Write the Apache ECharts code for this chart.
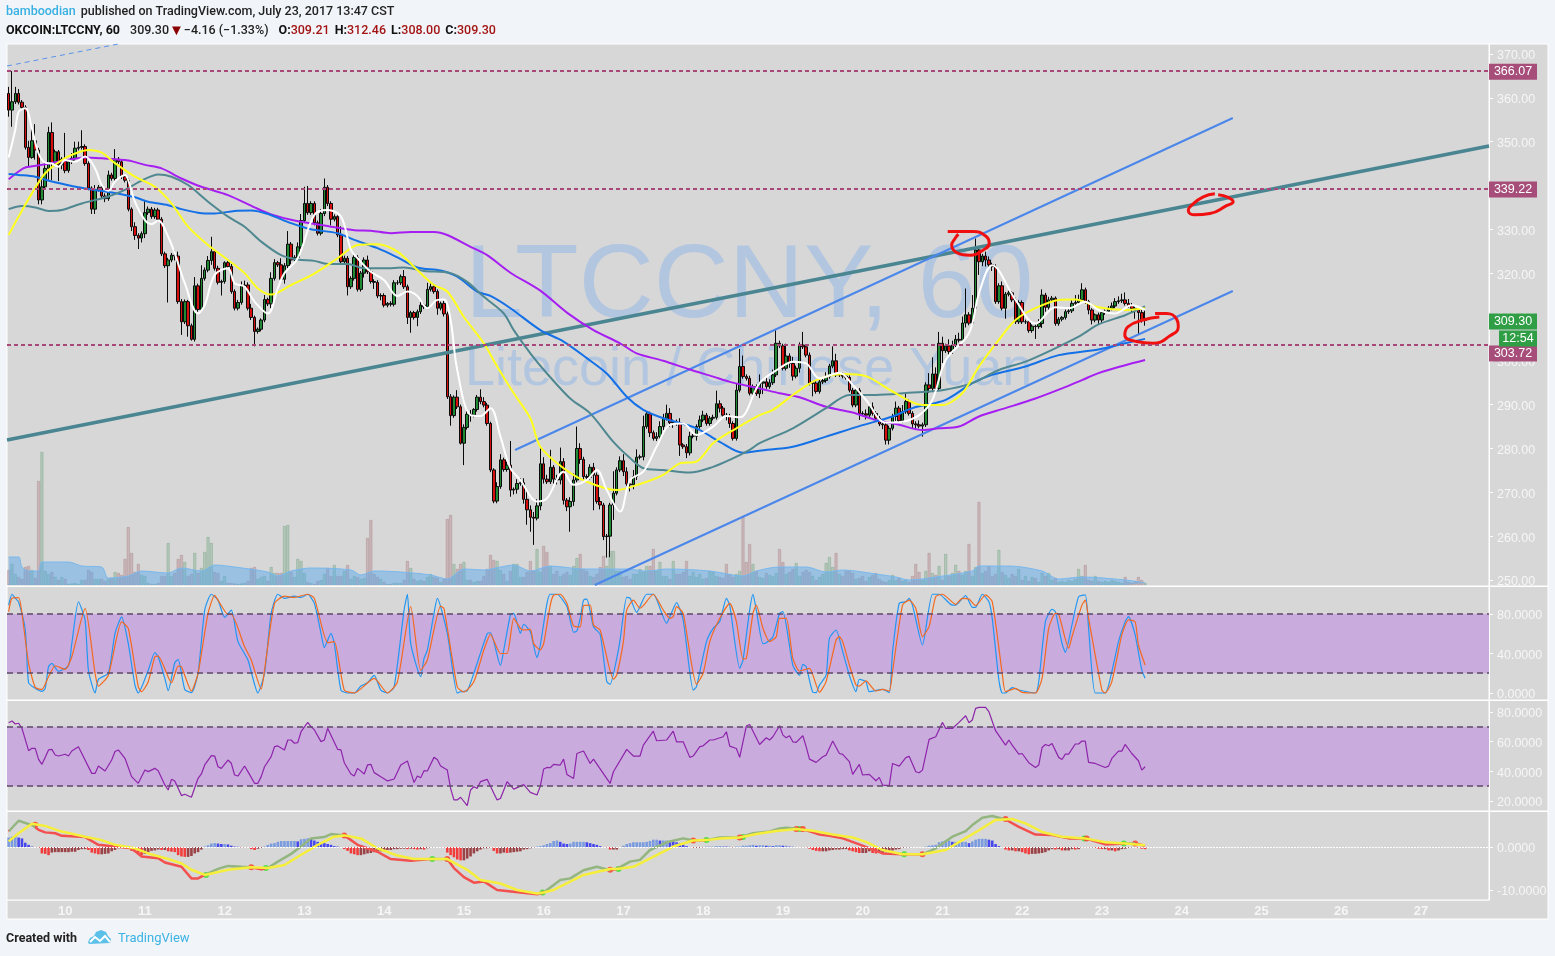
<!DOCTYPE html>
<html><head><meta charset="utf-8"><title>LTCCNY</title>
<style>html,body{margin:0;padding:0;background:#f1f4f8}#c{width:1555px;height:956px}</style>
<script src="https://cdn.jsdelivr.net/npm/echarts@6/dist/echarts.min.js"></script></head>
<body><div id="c"></div><script>
const firstOpen=361.0;
const closes=[357.2,359.1,361.0,359.0,357.8,348.7,346.4,350.2,348.1,336.7,
339.7,343.9,352.1,345.0,347.7,344.7,346.0,343.4,345.4,346.2,
348.5,348.7,348.9,345.0,339.4,334.6,339.1,339.6,337.6,337.0,
342.4,341.6,346.0,345.4,342.0,341.2,334.6,330.6,328.6,328.0,
329.0,333.8,334.6,332.9,334.4,332.3,324.4,321.7,323.0,324.1,
323.9,313.5,308.9,313.5,308.0,304.9,317.1,311.7,318.8,320.7,
322.9,324.9,321.1,317.9,318.1,322.4,321.5,315.8,312.0,313.3,
317.1,317.3,312.0,309.9,306.7,307.2,309.3,314.0,313.0,318.8,
322.4,321.9,318.6,321.7,326.6,323.0,323.6,326.0,332.0,335.9,
333.8,335.9,331.5,329.1,333.6,339.6,335.9,332.3,332.9,328.7,
322.6,323.4,316.9,318.8,323.6,316.3,320.0,323.0,320.3,318.1,
317.9,314.8,314.9,312.7,313.1,312.9,317.8,317.8,319.2,316.9,
309.9,311.0,309.9,311.2,312.7,312.3,316.3,316.9,315.8,312.0,
313.1,310.7,291.8,287.5,291.7,289.5,281.2,284.8,287.8,287.6,
288.9,291.7,290.7,289.9,285.7,275.1,268.0,271.3,277.4,275.2,
276.2,270.5,270.7,272.0,272.2,268.4,266.0,264.3,264.1,266.9,
276.5,273.0,272.4,275.7,273.0,272.8,277.0,268.2,266.7,267.9,
272.8,280.0,277.5,273.6,273.4,275.7,273.9,267.9,267.1,259.9,
260.0,267.1,269.8,275.1,277.2,274.7,271.9,271.7,273.6,278.0,
278.1,285.0,287.9,283.6,282.3,282.7,285.0,286.9,288.0,285.9,
286.1,285.7,280.8,280.4,279.0,282.8,282.8,285.0,286.5,287.6,
285.7,286.9,287.1,290.2,289.2,287.6,287.4,285.7,282.3,293.3,
298.7,296.4,296.0,292.6,294.1,292.5,294.9,295.2,294.1,295.0,
296.8,304.0,303.4,298.3,301.1,299.4,296.5,298.3,303.6,303.2,
301.3,294.9,294.9,293.0,295.2,295.5,296.4,298.8,300.0,296.8,
296.8,296.5,296.2,293.3,289.9,293.3,288.0,287.9,287.6,289.5,
288.0,286.9,285.6,285.4,281.9,284.6,287.3,289.2,286.3,288.4,
290.7,288.0,285.6,285.4,285.1,285.4,294.5,293.7,297.0,293.7,
304.0,302.3,303.4,302.1,303.6,304.9,304.7,308.6,310.5,308.6,
312.0,325.3,322.6,323.9,323.0,321.9,321.5,313.5,317.1,312.0,
315.2,315.5,313.9,308.9,313.3,308.9,308.9,306.9,307.9,307.8,
308.5,315.0,312.2,313.9,314.3,308.5,309.5,309.9,311.2,311.4,
313.1,313.3,313.9,316.2,313.5,311.6,309.3,310.5,309.3,311.0,
311.3,312.0,312.5,313.5,313.7,313.9,313.1,312.6,311.9,311.6,
311.0,309.21,309.30];
const wickUp=[1.5,7,1.5,1,.5,.5,1.5,2.7,3.8,.5,
2.3,1.5,1.3,2.3,.5,.4,.5,6,.5,1.2,
1.5,1.3,3.7,.5,.5,.4,1,.5,.7,.6,
1,.5,2.3,.5,.5,.5,.5,.4,1,.5,
.5,2.9,.6,.5,.5,.5,.5,.5,.5,.5,
1.2,1,.6,.5,.4,.5,2,.5,3,.6,
1,3.4,.6,.6,.4,.3,.4,.6,.5,.6,
1,1,.6,1,.4,.4,.4,1,.4,1.4,
.8,.4,1.5,.6,3,.5,.5,1,1.5,3.8,
4,.5,.5,.5,1,2,.5,.5,.5,.3,
2,.6,.5,.5,.5,.5,.5,.6,1,.5,
.5,.5,.5,.5,.3,.5,.6,.6,.5,1.5,
.5,.4,.4,.5,.8,.5,1.5,.8,.5,.5,
.4,.6,.5,.6,.4,1.6,.5,.7,1,1,
.3,.5,1.8,1,.5,.4,.4,1,1.3,.5,
.8,5.5,.4,1,1,1,2,1,1.2,1.5,
3.5,1.5,1,4,.5,1,3.2,.8,.5,1,
1.5,5,1.2,.6,.5,.7,1,.6,1,.5,
.5,.5,5,.6,1,1.5,1,.8,1.5,1.8,
.5,2.5,.6,.5,.5,1,1.2,1,2,1.2,
.5,.5,1.2,.4,.6,1,.5,.5,1,1,
.5,.5,.6,3,.8,.5,.5,.5,.5,1.5,
4,2.5,.5,.6,.5,.5,2,.6,1,.8,
1.2,3,.6,.5,2.8,.6,1.5,.6,.6,3,
.5,.6,.5,.5,.5,.5,1,.5,3.3,1.6,
.5,.5,.5,.5,.5,.5,.5,.5,1,.8,
1,.5,.5,.4,.5,.6,.6,1.5,.5,1.5,
1.8,.5,.5,.6,1,.5,.6,2.7,3.8,1.5,
2.6,1.5,.5,1.5,1,1,1.5,1.5,6,.6,
3,2.6,.5,.5,1,.8,.5,.5,.6,1,
.5,.5,.4,.5,.5,.5,.5,.5,.4,.4,
1,1.3,.5,.7,.5,.4,.5,.3,.5,.5,
1,1.7,1.2,1.5,.5,.4,.4,.3,.5,.4,
.4,.5,.8,.8,1,1.4,1.7,1,.6,.5,
.4,.6,3.16];
const wickDown=[1.5,3.8,.5,.5,.5,.5,2.2,.3,2.2,1,
1,.5,2.6,3.8,.5,3.7,1,.6,.5,.5,
.5,.5,.5,.5,.5,1.1,1.1,.5,.5,.8,
.5,.5,.5,.5,.5,.5,.5,1,1,2.5,
1,1,.5,.5,.5,.5,.5,.5,8.4,.5,
1,.5,3,.5,2.5,.3,.5,.5,.5,.5,
.5,1,.5,.5,3,.5,.5,.5,.5,.5,
.5,.5,.5,.6,3.4,.5,.5,.5,.5,1,
.5,.5,.5,1,.6,1,.5,.5,.5,.5,
.5,.5,.6,.5,.5,.6,.6,1.4,.5,.5,
.6,.5,2,.5,.5,.5,.5,1,.5,.5,
1.5,.5,1,.5,.5,.5,.5,.5,.5,.5,
1.5,3.5,.5,2,.5,.5,.5,.5,.5,1.5,
.5,.6,.5,2.3,.5,.5,.3,5,.5,1.5,
.5,.5,.6,.5,.5,.5,.5,.5,.5,.5,
.5,1.5,1,1,.5,1,3.4,3.3,6.1,.5,
1,1,.5,.5,1,1,1,1,1,5.7,
1,.5,1,1,1,.5,8,.5,1,.8,
4.8,4.8,3.4,.5,.5,1,.5,1.5,1,.8,
.5,.8,.5,1,.5,.6,1,.8,.5,1,
1.2,.5,2.5,.5,1.2,.6,.5,1,.5,.5,
.5,.5,.5,.5,1,.5,1,1,.5,.5,
.5,.5,.5,.5,1,.5,1,2.5,.5,.5,
.5,.5,.5,.5,.5,1,1,.5,1,.5,
.5,.5,3,.5,.5,.5,.5,.5,.5,.5,
.5,.5,.5,.5,.5,.5,1.5,.5,1,.5,
.5,.5,.5,1,1,1,.5,1,.5,.5,
.5,.5,1,.9,.5,2.4,.5,1,.5,1,
.5,2.8,.5,1,.5,.5,.5,.5,1,.5,
.5,.5,3,1,1.5,1,1,.5,.5,.5,
2.4,.5,.5,.5,.5,.5,.5,.5,.5,2.8,
.5,1,1,.5,.5,.5,.5,.5,.5,.5,
.5,.5,.5,.5,.5,1,1,.5,1,.7,
.5,.5,.5,.5,.5,.5,.5,.5,1,2,
5,.5,1.21];
const volumes=[15,21,11,8,6,18,19,15,7,104,
133,14,11,13,8,5,8,6,1,1.5,
2,1,5,5,15,13,6,6,6,4,
6,7,13,12,10,26,58,32,13,21,
10,9,2,1,1,2,9,9,42,9,
12,26,30,23,9,11,32,12,17,33,
48,42,13,12,4,9,2,2,1.5,1,
1.5,2,4,17,18,6,8,9,4,18,
12,12,12,59,60,13,8,26,24,12,
3,2,1,4,5,11,17,9,20,9,
9,14,20,6,9,8,6,7,47,65,
11,8,6,3,1,1,2,2,2,5,
24,17,6,4,5,4,8,11,8,7,
3,6,66,70,21,16,21,23,5,5,
3,4,4,9,16,30,25,24,15,11,
4,14,21,21,8,8,13,24,14,36,
13,39,33,19,11,14,9,11,13,10,
19,27,31,16,14,9,8,11,18,29,
19,34,34,14,14,8,9,6,11,11,
16,13,19,19,36,14,23,9,9,6,
24,11,11,13,24,9,13,8,11,6,
7,14,13,9,8,7,21,11,8,11,
14,68,23,41,21,14,8,7,12,10,
9,12,36,23,11,13,16,22,9,13,
15,13,9,5,8,11,22,28,18,32,
11,9,14,14,12,6,7,9,4,8,
10,12,6,4,3,5,10,5,7,4,
5,3,9,21,13,5,14,32,12,10,
19,5,31,9,12,20,14,10,14,41,
9,18,83,12,14,19,9,11,35,13,
10,7,11,9,16,5,9,4,8,7,
3,12,9,12,5,7,3,4,3,5,
4,6,16,9,20,5,4,9,4,3,
4,3,5,4,3,2,8,3,2,4,
8,5,2];
const volumeMA=[[0,28],[3,28],[4,18],[6,14],[9,14],[10,23],[18,23],[22,19],[28,18],[30,7],[36,9],[40,14],[48,12],[52,17],[58,14],[62,20],[68,18],[78,13],[81,9],[85,14],[91,17],[103,15],[106,10],[110,14],[118,13],[127,10],[132,6],[137,16],[143,15],[148,18],[152,20],[157,14],[163,19],[173,16],[186,16],[192,14],[198,16],[211,14],[221,9],[225,14],[232,18],[240,18],[246,13],[251,15],[261,11],[267,8],[271,5],[279,8],[290,14],[292,19],[301,19],[311,14],[316,6],[323,8],[336,5],[342,2]];
const maPurple=[[0,341.4],[3,343.2],[5,344.1],[10,344.7],[17,345.7],[23,346.4],[28,346.2],[36,345.7],[41,344.7],[46,343.9],[52,341.6],[58,339.7],[66,337.8],[74,335],[79,333.4],[86,332],[97,330.6],[104,329.8],[109,329.7],[115,329.1],[121,329.4],[128,329.4],[132,328.7],[139,326],[144,324.1],[151,320.1],[160,316],[168,311],[176,307],[184,304],[189,301.7],[197,300],[205,298],[212,296.4],[217,295.2],[226,293.7],[232,292.6],[238,291.7],[246,289.5],[254,288.2],[261,286.5],[268,285.4],[275,284.2],[280,284.6],[286,285],[292,287.3],[300,289.2],[309,291.4],[317,293.7],[323,295.6],[328,297.2],[336,299],[342,300.2]];
const maBlue=[[0,342.6],[3,342.4],[8,342],[13,340.9],[19,339.9],[25,339.1],[31,338.4],[38,337.3],[42,336.3],[48,335.5],[52,334.6],[57,333.8],[62,333.6],[68,334.2],[73,334.3],[78,333.5],[85,331.4],[91,330],[99,329.1],[104,327.6],[111,325.7],[117,323.6],[123,321.3],[130,320.6],[135,319.2],[141,315.8],[145,314.8],[151,312],[160,307],[167,304.4],[174,300.6],[180,297.1],[186,291.8],[191,288.8],[197,286.9],[207,284.6],[214,281.5],[221,279],[226,279.5],[236,280.4],[246,282.7],[256,285.1],[266,287.3],[272,289.2],[282,291.1],[290,294.9],[296,296.8],[306,298.7],[316,301.3],[328,302.6],[336,304],[342,305]];
const maTeal=[[0,334.6],[4,335.3],[8,335],[12,334.2],[16,334.4],[22,335.9],[30,337.5],[35,339],[40,341.1],[45,342.5],[49,342],[54,340.1],[60,336.3],[66,332.9],[71,330.6],[76,327.2],[82,324.1],[87,323.1],[92,322.8],[96,322.1],[102,322.1],[107,321.1],[113,321.1],[119,321.3],[125,320.5],[133,320],[138,318],[143,314.6],[149,310.8],[152,307],[157,301.7],[162,297.1],[169,291.4],[175,288],[182,281.5],[187,277.8],[191,275.5],[197,275.1],[205,274.5],[212,275.8],[217,277.4],[223,279.7],[226,281.2],[236,284.6],[246,289.2],[253,292.2],[261,292.2],[271,292.7],[281,293.3],[290,294.9],[298,297.9],[306,299.8],[314,302.5],[322,305.5],[328,308.3],[336,310.4],[342,312.4]];
const maYellow=[[0,328.7],[3,332.9],[7,338.2],[11,342.8],[16,345.8],[20,347.3],[24,348.1],[28,347.5],[32,345.1],[38,342],[44,339.7],[49,335.9],[54,330.6],[60,326.4],[66,323],[71,320],[75,316.5],[79,315.1],[85,317.3],[92,319.9],[99,323.4],[105,326.4],[111,326.6],[117,324.9],[123,320.7],[128,317.3],[132,315.8],[137,310],[143,304],[147,298.7],[152,292.6],[157,286.9],[160,280.4],[167,275.5],[174,272.4],[183,270.5],[190,271.9],[197,274],[202,276.6],[207,277],[212,281.2],[219,284.6],[226,287.6],[230,288.8],[236,292.2],[243,295.6],[251,297],[258,296.5],[266,293],[275,289.9],[281,289.9],[287,292.6],[292,298.7],[298,304.8],[303,309.3],[309,312],[316,313.9],[321,314],[328,312.2],[336,311.6],[342,312]];
const maWhite=[[0,346.4],[2,352.7],[3,356.8],[5,357.6],[7,353],[9,347.3],[11,345.2],[13,345],[15,344.3],[17,345.8],[20,345.4],[23,346.6],[26,343.9],[28,340.1],[30,338.8],[32,340.9],[35,342.4],[36,341.2],[38,336.3],[41,332.1],[43,331.2],[45,332],[48,328.3],[50,324.5],[53,317.7],[57,310.8],[59,312.7],[62,319.6],[66,321.1],[68,317.7],[71,316.9],[74,313.5],[78,310.8],[81,316.5],[83,320],[87,323.4],[92,333.3],[96,334.4],[100,332.9],[103,325.3],[105,323.4],[109,320.3],[113,318.4],[117,314.8],[120,315.8],[123,314.8],[126,312],[129,313.9],[131,314],[133,309.3],[135,297.9],[139,287.6],[142,287.4],[145,289.2],[148,282.7],[151,275.5],[154,272.8],[159,267.9],[162,268.6],[167,274.7],[170,271.7],[174,272.8],[177,275.1],[180,270.5],[184,265.6],[187,272.8],[191,274.7],[195,280.4],[199,285.4],[203,285.7],[207,283.1],[212,285],[216,287.4],[220,287.1],[226,294.9],[232,298.3],[236,299.8],[240,299.4],[244,296],[250,297.3],[254,294.5],[258,291.1],[264,285.9],[269,286.1],[274,287.6],[278,291.1],[282,300.2],[289,306.3],[292,315.4],[296,321.8],[303,313.9],[309,308.5],[315,312.2],[319,312],[324,313.5],[328,311.6],[333,310.8],[338,312.7],[342,311.6]];
const channelUpper=[[152.4,279.65],[368.4,355.4]];
const channelLower=[[176.4,248.85],[368.4,315.93]];
const channelTop=[[-0.5,367.26],[33,372.28]];
const trendTeal=[[-0.5,281.93],[445.5,349.0]];
const priceLevels=[366.07,339.22,303.72];
const lastPrice=309.30;
const countdown='12:54';
const scribbleA=[[282.6,329.5],[290.3,329.5],[294.3,328.3],[295.1,326.8],[293.3,325.3],[289.3,324.1],[285.3,324.7],[283.8,326.4],[284.8,327.9],[285.8,328.9]];
const scribbleB=[[363,338.1],[359.5,337.4],[356,335.5],[355,334.3],[357,333.3],[361.5,333.6],[366.5,335.4],[368.5,336.3],[367,337.3],[364,337.9]];
const scribbleC=[[346.3,310],[341.4,309.3],[336.9,307.8],[335.9,305.9],[339.4,304.4],[344.4,304],[349.5,305.7],[352,307.8],[351.5,309.5],[348.5,310.8],[345,310.8]];
const stochK=[[0,89],[1,100],[2,96],[3,92],[5,64],[6,10.4],[8,4.7],[10,1.6],[11,4.7],[12,26.6],[13,30],[15,22],[18,27.6],[19,50],[21,92.4],[23,73.8],[24,23],[26,0],[27,13.8],[30,20],[32,60.4],[34,77],[36,50],[38,8],[39,0],[42,23],[44,41],[45,36.7],[47,14.8],[48,2.3],[50,30.6],[51,34],[53,3.6],[55,0.3],[57,20],[59,84],[61,100],[63,94],[65,76.6],[67,84],[69,52],[72,33.4],[75,0],[77,20],[79,80.6],[81,100],[83,95.8],[86,98],[88,96.8],[90,100],[92,90.7],[94,60.4],[95,46],[97,60.4],[98,50],[100,3],[102,0],[104,0],[106,7],[108,10.4],[110,17.8],[112,3],[114,0],[116,6],[119,84],[120,100],[121,50],[124,16.5],[125,35],[126,43.5],[128,80.6],[129,95.8],[132,60.4],[135,0],[136,1.3],[138,2.3],[140,20],[144,60],[145,61],[148,28],[149,43.6],[151,79],[152,80.7],[154,60.4],[155,69.6],[157,62],[159,35.8],[160,48.6],[162,90.8],[163,100],[165,100],[168,87.5],[170,61.5],[171,62.8],[172,75.6],[173,94],[174,95],[176,67],[178,59.4],[180,11.5],[181,8.8],[183,35],[184,53.7],[186,96.9],[187,96],[189,81.7],[192,100],[194,100],[198,70.6],[199,77.3],[201,91.5],[203,74],[206,3],[207,6.4],[210,52],[212,65.5],[214,72.3],[216,95.9],[217,89],[220,25],[221,33.4],[223,84],[224,100],[225,84],[227,50],[228,51],[230,57],[232,80.7],[233,82.4],[236,28],[238,18],[239,29],[240,26.7],[242,0.7],[243,0.3],[244,8],[246,18],[247,55.4],[249,63.8],[251,41.9],[253,18],[255,1.4],[256,13.9],[258,11.5],[259,1.4],[263,3.7],[265,0.4],[266,41.9],[268,90.8],[270,92.5],[271,95.9],[272,89],[275,48.6],[278,100],[280,100],[284,89],[285,89],[288,98.6],[290,86.8],[291,86.8],[293,100],[295,92.5],[296,75.6],[298,13.2],[299,0],[300,0],[302,5.4],[304,3],[309,0],[310,11.5],[312,72.3],[314,84.8],[315,82.4],[317,50.3],[318,41.2],[320,68.9],[322,97.6],[324,99.3],[325,65.5],[327,0],[330,0],[332,21.6],[334,52],[336,72.3],[337,77.3],[339,58.8],[341,23.3],[342,14.9]];
const stochD=[[0,82.3],[1,96],[3,96.5],[4,80.6],[6,30],[8,5.7],[10,3.6],[12,16.4],[14,27.6],[17,23.9],[19,36.7],[23,85.7],[26,20],[27,7],[30,18],[34,72],[36,65.4],[39,6.3],[40,1.3],[42,11.4],[44,36.7],[45,37.4],[49,10.4],[51,27.3],[52,26.6],[55,2],[57,20],[60,80.6],[62,99],[63,94],[66,79.6],[67,79.6],[71,46.8],[73,33.4],[76,4],[77,23],[80,90.7],[83,98],[86,96.8],[90,100],[92,95.8],[96,51],[98,52],[101,3],[104,0],[110,14.8],[114,0],[117,11.4],[121,87.4],[124,23],[126,33.4],[130,88],[131,85.7],[135,6.3],[137,1],[140,11.4],[143,43.5],[145,59.4],[148,40],[150,40],[152,75.6],[154,65.5],[155,63.8],[157,64.5],[158,50],[160,43.6],[161,50],[163,89],[164,99],[166,100],[168,90.8],[170,68],[172,67],[173,88.5],[175,89],[176,68.9],[178,63.8],[182,13.9],[183,18.2],[185,52],[186,84],[188,94],[190,85.8],[191,88.5],[194,100],[197,84],[199,75.6],[200,77.3],[201,87.5],[203,80.7],[207,8.8],[209,20],[211,52],[214,75.6],[217,90.8],[219,72.3],[221,34.4],[222,35],[224,80.7],[225,89],[227,65.5],[229,52],[231,57],[232,75.6],[234,75.6],[236,35],[238,22.3],[241,25],[244,0.7],[246,11.5],[249,53.7],[250,57],[251,52],[253,28.4],[255,8.1],[256,7],[258,12.2],[261,2],[263,3.7],[265,2],[266,21.6],[269,89],[271,94],[273,85.8],[275,57],[277,67.2],[279,97.6],[281,100],[285,89.8],[287,95.9],[289,95.2],[291,88.5],[294,99.3],[296,92.5],[299,20],[300,1.4],[303,4.7],[305,0.7],[309,0],[311,14.9],[313,65.5],[315,80.7],[316,79.7],[319,45.3],[320,57],[323,89],[324,94],[325,75.6],[329,3],[330,0],[332,11.5],[335,58.8],[337,74],[339,72.3],[340,48.6],[342,28.4]];
const rsiLine=[[0,72.8],[1,73.9],[2,71.9],[3,72.4],[4,69],[6,53.9],[7,55.5],[8,55.5],[9,48],[10,44.7],[11,49.4],[12,54.4],[13,54.8],[14,51],[15,50.3],[17,51.5],[18,50.3],[19,53.7],[21,56.6],[25,38.6],[26,38.6],[27,43.6],[29,40.2],[31,47.6],[32,53.3],[33,54.4],[35,48.8],[37,36.4],[39,31.9],[41,40.9],[42,39.8],[44,42],[45,40.4],[47,30.8],[48,27.4],[49,34.6],[50,33.5],[52,23.6],[53,24.5],[55,22.5],[57,35.3],[58,38.2],[59,44.3],[61,50.6],[62,50.3],[63,43.1],[64,42],[66,47.6],[67,45.4],[68,37.5],[69,36.8],[71,43.6],[72,39.8],[74,31.9],[75,31.9],[76,36.4],[77,43.1],[79,49.9],[80,56.6],[81,57.1],[83,54.4],[84,61.1],[85,61.1],[86,58.9],[87,59.3],[88,66.7],[90,73],[91,70.1],[92,67.9],[94,60],[95,61.1],[96,69],[99,54.8],[100,54.4],[101,45.8],[103,38.2],[104,36.8],[105,42],[107,38.2],[108,44.3],[109,44.7],[110,39.1],[112,36.4],[114,33.5],[116,34.8],[118,44.3],[120,47],[122,32.4],[123,36.8],[124,35.7],[125,40.4],[126,40.2],[128,49.4],[129,48],[130,43.6],[132,40.9],[133,28.5],[134,20.7],[135,20.7],[136,22.5],[138,16.8],[139,27.4],[140,29.6],[141,28.5],[142,33],[144,34.6],[146,25.2],[147,20.7],[148,21.7],[150,33],[152,28],[155,31],[157,25.8],[159,24],[160,30],[161,41.5],[162,42.6],[163,42.4],[164,44.7],[166,44.2],[167,48.2],[168,37.9],[170,35.2],[171,52],[173,53.7],[175,45.3],[176,48.2],[181,31.8],[182,39.7],[186,54.8],[188,50.3],[190,50.3],[191,57.7],[194,67.1],[195,60.6],[198,61.1],[200,67.1],[201,59.9],[203,59.9],[205,49.4],[206,50.3],[208,56.6],[209,57.2],[211,61.1],[212,61.1],[215,63.3],[216,66.7],[217,57],[219,55.4],[220,49.4],[222,70.5],[223,71.6],[226,58.1],[228,62.6],[229,61.1],[230,63.3],[232,70.7],[233,64.4],[234,62.6],[235,64],[236,59.9],[237,59.5],[239,64],[240,56.6],[241,48.2],[243,46],[245,49.8],[246,50.9],[248,60.4],[250,52],[251,51.4],[253,46.5],[254,37.9],[256,44.7],[257,37.5],[259,37.9],[261,33.6],[262,35.9],[263,30.7],[265,30.3],[266,45.3],[268,43.5],[270,49.2],[271,50.1],[273,39.7],[274,39],[275,40.8],[277,61.5],[279,63.3],[281,73],[282,68.9],[284,68.9],[286,73],[288,77.5],[289,72.8],[290,74.6],[291,82.4],[292,83.1],[294,83.1],[295,80.2],[297,67.4],[300,57.7],[301,61.1],[302,57.7],[304,51.6],[305,52],[307,45.8],[309,42.6],[310,44.2],[311,56.1],[312,58.1],[313,57.2],[314,58.8],[316,49.4],[317,48],[318,51.6],[319,51.6],[321,58.4],[322,58.4],[323,60.4],[324,60.4],[325,46],[327,45.3],[330,42.6],[331,43.5],[332,48.7],[334,53.6],[335,53.6],[336,58.1],[338,52],[340,47.1],[341,40.8],[342,43.1]];
const macdLine=[[0,3.6],[3,6.1],[7,5.1],[9,4],[11,3.4],[14,3.2],[16,2.6],[23,2.3],[27,.5],[32,.1],[37,-.3],[40,-2.2],[45,-2.6],[47,-3.6],[52,-4.6],[55,-7.3],[57,-7.3],[59,-6.5],[63,-5.1],[66,-4.4],[70,-4.6],[73,-4.7],[76,-5.2],[78,-4.9],[81,-3.4],[85,-1.6],[88,.1],[91,2],[95,2.3],[97,3],[101,2.7],[105,.5],[111,-1.1],[115,-2.8],[121,-3.2],[127,-2.8],[132,-2.8],[134,-4.9],[137,-7],[140,-8.3],[143,-8],[147,-10],[154,-10.6],[159,-11],[161,-10.6],[166,-7.7],[169,-7.3],[173,-5.4],[177,-4.6],[181,-5.4],[183,-5.1],[187,-3.4],[190,-3],[193,-.7],[198,1.1],[203,2],[206,1.5],[210,1.6],[214,2.2],[220,2.2],[224,3.2],[229,3.6],[232,4.3],[234,4.5],[239,4.1],[242,3.4],[244,2.9],[247,2.6],[251,2],[256,.6],[263,-1.5],[269,-1.7],[275,-1.7],[279,-.3],[284,2.4],[288,3.7],[290,5.1],[293,6.8],[296,7.2],[300,6.4],[304,4.7],[309,2.9],[314,2.8],[319,2],[324,2],[330,.6],[336,.8],[339,.8],[342,.3]];
const macdSignal=[[0,1.3],[3,3.2],[7,5.4],[11,4.9],[15,3.8],[23,2.4],[28,1.6],[32,.5],[38,-.3],[42,-1.5],[48,-2.8],[52,-3.8],[55,-5.3],[59,-6.5],[66,-5.3],[73,-4.7],[78,-4.9],[83,-4.2],[88,-1.8],[93,.5],[98,2.4],[101,2.7],[106,2],[111,-.3],[117,-2],[122,-2.8],[127,-2.8],[132,-2.8],[138,-5.3],[142,-7.7],[148,-8.5],[153,-10],[159,-10.8],[161,-10.6],[164,-10],[173,-6.5],[181,-5.1],[183,-5.1],[188,-4.6],[195,-1.9],[200,.1],[206,1.5],[210,1.6],[214,2],[220,2.2],[225,3],[231,3.7],[237,4.2],[242,3.8],[244,3.5],[248,2.9],[254,2.2],[258,1.2],[263,-.7],[269,-1.7],[275,-1.7],[282,-.7],[287,1.6],[292,3.9],[297,6.3],[302,6.5],[306,5.5],[311,3.5],[317,2.4],[324,2],[330,1.1],[336,.8],[342,.4]];
const macdHist=[2.2,2.4,2.6,2.2,2,1,.5,.1,-.1,-.2,
-1.5,-1.6,-1.9,-1.3,-1.2,-1.2,-1.2,-1.2,-1.2,-1.1,
-1.1,-.7,-.5,-.5,-.7,-1.3,-1.5,-1.7,-1.7,-1.6,
-1.5,-1,-.7,-.3,-.1,-.2,-.4,-.9,-1.2,-1.7,
-1.9,-1.6,-1.2,-.9,-.8,-.6,-.7,-.7,-1,-1.1,
-1.2,-1.9,-2.2,-2.3,-2.3,-2.1,-1.5,-1.2,-.6,.1,
.4,.8,.9,.8,.7,.7,.6,.3,.1,.1,
-.1,-.1,-.1,-.5,-.7,-.4,-.2,.1,.5,.8,
.9,1.2,1.4,1.4,1.4,1.4,1.4,1.3,1.8,1.9,
2,1.9,1.5,1.2,1,.9,.7,.5,.2,.1,
-.1,-.5,-.9,-1.5,-1.7,-1.9,-1.9,-1.7,-1.5,-1.4,
-1.2,-1.2,-1,-.9,-.7,-.7,-.5,-.5,-.4,-.4,
-.5,-.4,-.5,-.6,-.5,-.6,-.3,-.2,-.1,0,
-.05,-.1,-1.3,-1.9,-2.4,-2.9,-3.1,-3.1,-2.7,-2.2,
-1.5,-1,-.6,-.3,-.3,-.2,-.9,-1.5,-1.5,-1.3,
-1.4,-1.3,-1.2,-1.1,-1,-.6,-.5,-.3,-.1,.1,
.2,.4,.7,.9,1.4,1.5,1.2,.8,.7,.8,
1.2,1.2,1.2,1.2,1.1,.9,.7,.5,.2,0,
-.1,-.6,-.6,-.6,0,.3,.7,.9,1.1,1.1,
1.1,1.1,1.2,1.4,1.7,1.7,1.5,1.5,1.5,1.4,
1.3,1.1,.9,.5,.2,0,-.2,-.2,-.2,-.1,
.1,.1,.1,.2,.2,.2,.1,.1,-.1,.1,
.1,.3,.3,.4,.5,.3,.4,.4,.3,.3,
.2,.4,.4,.3,.3,.1,.1,0,0,-.1,
-.2,-.4,-.7,-.9,-1,-1,-1,-.8,-.7,-.6,
-.6,-.5,-.5,-.8,-1,-1.2,-1.4,-1.4,-1.4,-1,
-1.4,-1.5,-1.4,-1.4,-1.2,-1.2,-.8,-.6,-.5,-.2,
-.1,-.1,0,0,0,0,.1,.3,.4,.5,
1.1,1.3,1.5,1.5,1.2,1.2,1.2,1.2,1.2,.9,
1.3,1.7,1.9,1.9,1.9,1.7,1.5,.7,.2,0,
-.6,-.8,-.8,-1,-1,-1.2,-1.5,-1.7,-1.6,-1.6,
-1.5,-1.4,-1.2,-.8,-.5,-.6,-.5,-.8,-.8,-.8,
-.5,-.6,-.5,-.2,-.1,-.1,-.1,-.2,-.4,-.5,
-.5,-.8,-.8,-1,-.8,-.5,-.4,-.2,-.1,0,
-.2,-.4,-.5];
const crossRed=[[8,5.2],[73,-4.7],[101,2.7],[132,-2.8],[181,-5.3],[206,1.5],[220,2.2],[237,4.2],[239,4.2],[275,-1.7],[300,6.5],[324.4,2],[339,.8]];
const crossGreen=[[59.4,-6.5],[77.4,-4.9],[127.5,-2.8],[160.7,-10.6],[183.5,-5.1],[210,1.6],[221,2.3],[238,4.2],[269.5,-1.7],[323.7,2],[335.6,.8]];
const macdPhases=[[0,8,'g'],[8,59,'r'],[59,73,'g'],[73,77,'r'],[77,101,'g'],[101,127,'r'],[127,132,'g'],[132,161,'r'],[161,181,'g'],[181,183,'r'],[183,206,'g'],[206,210,'r'],[210,220,'g'],[220,221,'r'],[221,237,'g'],[237,275,'r'],[275,300,'g'],[300,336,'r'],[336,339,'g'],[339,343,'r']];
const priceTicks=[250,260,270,280,290,300,310,320,330,340,350,360,370];
const stochTicks=[0,40,80];
const rsiTicks=[20,40,60,80];
const macdTicks=[-10,0];
const dayLabels=[10,11,12,13,14,15,16,17,18,19,20,21,22,23,24,25,26,27];
const slotCount=446, firstMidnight=17;

const hourLabels=Array.from({length:slotCount},()=>'');
dayLabels.forEach((d,k)=>{hourLabels[firstMidnight+24*k]=String(d);});
const opens=closes.map((c,i)=>i?closes[i-1]:firstOpen);
const candles=closes.map((c,i)=>[opens[i],c,Math.min(opens[i],c)-wickDown[i],Math.max(opens[i],c)+wickUp[i]]);
const volData=volumes.map((v,i)=>({value:v,itemStyle:closes[i]>=opens[i]
  ?{color:'rgba(70,150,90,.24)',borderColor:'rgba(60,130,80,.38)',borderWidth:.6}
  :{color:'rgba(160,80,90,.24)',borderColor:'rgba(140,80,90,.38)',borderWidth:.6}}));
const histData=macdHist.map((v,i)=>{const p=i?macdHist[i-1]:0;
  const col=v>=0?(v>=p?'#7a9bdf':'#4646ee'):(v<p?'#f23c3c':'#9a4246');
  return {value:v,itemStyle:{color:col}};});

const axisGrey='#f6f6f6', FONT='"Liberation Sans",Arial,sans-serif';
const catAxis=(g,extra)=>Object.assign({type:'category',gridIndex:g,data:hourLabels,boundaryGap:true,axisLine:{show:false},axisTick:{show:false},axisLabel:{show:false},splitLine:{show:false}},extra||{});
const valX=(g)=>({type:'value',gridIndex:g,min:-0.5,max:slotCount-0.5,show:false,splitLine:{show:false}});
const yAx=(g,min,max,ticks,digits)=>({type:'value',gridIndex:g,position:'right',min,max,scale:true,
  axisLine:{show:true,onZero:false,lineStyle:{color:'#fff',width:1}},
  axisTick:{show:true,length:4,customValues:ticks,lineStyle:{color:'#fff'}},
  axisLabel:{show:true,margin:8,verticalAlign:'top',lineHeight:4,customValues:ticks,color:axisGrey,fontFamily:FONT,fontSize:12.5,formatter:v=>(+v).toFixed(digits)},
  splitLine:{show:false}});
const line=(name,x,y,data,color,width,extra)=>Object.assign({name,type:'line',xAxisIndex:x,yAxisIndex:y,data,showSymbol:false,symbol:'none',silent:true,animation:false,clip:true,lineStyle:{color,width}},extra||{});
const bandSeries=(x,y,top,bot)=>({type:'line',xAxisIndex:x,yAxisIndex:y,data:[[0,top]],symbol:'none',showSymbol:false,lineStyle:{opacity:0},silent:true,animation:false,
  markArea:{silent:true,itemStyle:{color:'#c9abde'},data:[[{yAxis:bot},{yAxis:top}]]},
  markLine:{silent:true,symbol:'none',animation:false,label:{show:false},lineStyle:{color:'#5e4a68',type:[6,4],width:1.5},data:[{yAxis:top},{yAxis:bot}]}});
const lvl=(v,txt,bg,off,w,lineVisible)=>({yAxis:v,label:{show:true,position:'end',distance:0,formatter:txt,offset:off,color:'#fff',backgroundColor:bg,fontFamily:FONT,fontSize:12.5,width:w,height:12,lineHeight:12,align:'center',padding:[2,3]},lineStyle:lineVisible?{color:'#a8487a',type:[4,3],width:2.2}:{color:'transparent',width:0}});

const option={animation:false,backgroundColor:'#f1f4f8',
 title:[
  {left:6,top:3,padding:0,text:'{a|bamboodian} {b|published on TradingView.com, July 23, 2017 13:47 CST}',textStyle:{rich:{a:{fontFamily:'Roboto',fontSize:12.5,color:'#37b0e3',fontWeight:500},b:{fontFamily:'Roboto',fontSize:12.5,color:'#222',fontWeight:500}}}},
  {left:6,top:22,padding:0,text:'{h|OKCOIN:LTCCNY, 60}  {v|309.30}{t|▼}{v|−4.16 (−1.33%)}  {h|O:}{r|309.21} {h|H:}{r|312.46} {h|L:}{r|308.00} {h|C:}{r|309.30}',textStyle:{rich:{h:{fontFamily:'Roboto',fontSize:12.5,color:'#111',fontWeight:700},v:{fontFamily:'Roboto',fontSize:12.5,color:'#222',fontWeight:500},t:{fontFamily:'Roboto',fontSize:15,color:'#8b0000'},r:{fontFamily:'Roboto',fontSize:12.5,color:'#a31515',fontWeight:500}}}},
  {left:6,top:932,padding:0,text:'Created with',textStyle:{fontFamily:'Roboto',fontSize:12.5,fontWeight:700,color:'#222'}},
  {left:118,top:932,padding:0,text:'TradingView',textStyle:{fontFamily:'Roboto',fontSize:13,fontWeight:400,color:'#3bb3e4'}}
 ],
 graphic:[
  {type:'rect',z:-10,silent:true,shape:{x:7,y:44,width:1541,height:875},style:{fill:'#d7d7d7',stroke:'#fff',lineWidth:1}},
  {type:'text',z:-5,silent:true,x:465,y:236,style:{text:'LTCCNY, 60',font:'104px '+FONT,fill:'#b3c6e0'}},
  {type:'text',z:-5,silent:true,x:465,y:343,style:{text:'Litecoin / Chinese Yuan',font:'54px '+FONT,fill:'#b3c6e0'}},
  {type:'rect',z:1,silent:true,shape:{x:7,y:585.5,width:1541,height:1.5},style:{fill:'#fff'}},
  {type:'rect',z:1,silent:true,shape:{x:7,y:699.5,width:1541,height:1.5},style:{fill:'#fff'}},
  {type:'rect',z:1,silent:true,shape:{x:7,y:810.5,width:1541,height:1.5},style:{fill:'#fff'}},
  {type:'rect',z:1,silent:true,shape:{x:7,y:899.5,width:1482,height:1.2},style:{fill:'#fff'}},
  {type:'rect',z:1,silent:true,shape:{x:1488.5,y:44,width:1,height:856},style:{fill:'#fff'}},
  {type:'polygon',z:3,silent:true,shape:{points:[[88,942],[90,938],[94,936],[96,932],[101,930],[106,932],[108,936],[111,939],[110,943],[89,944]]},style:{fill:'#5cc0e8'}},
  {type:'polyline',z:4,silent:true,shape:{points:[[90,942],[95,937],[100,941],[105,936],[110,942]]},style:{stroke:'#fff',fill:'none',lineWidth:2}}
 ],
 grid:[
  {left:7,right:66,top:44,height:541,containLabel:false},
  {left:7,right:66,top:587,height:112},
  {left:7,right:66,top:701,height:109},
  {left:7,right:66,top:812,height:88}
 ],
 xAxis:[catAxis(0),valX(0),valX(1),valX(2),
  catAxis(3,{axisLabel:{show:true,interval:0,margin:5,color:axisGrey,fontFamily:FONT,fontSize:13,fontWeight:'bold',hideOverlap:false}}),
  valX(3)],
 yAxis:[
  yAx(0,248.85,372.28,priceTicks,2),
  {type:'value',gridIndex:0,min:0,max:541,show:false,splitLine:{show:false}},
  yAx(1,-6.08,107.34,stochTicks,4),
  yAx(2,13.9,87.42,rsiTicks,4),
  yAx(3,-12.33,8.14,macdTicks,4)
 ],
 visualMap:[{show:false,type:'piecewise',seriesIndex:[21],dimension:0,pieces:macdPhases.map(p=>({gte:p[0],lt:p[1],color:p[2]==='g'?'#93b57f':'#f2504f'})),outOfRange:{color:'#f2504f'}}],
 series:[
  /*0*/{name:'Volume',type:'bar',xAxisIndex:0,yAxisIndex:1,data:volData,barWidth:3,silent:true,animation:false},
  /*1*/line('Volume MA',1,1,volumeMA,'#78b8ee',1,{smooth:.3,areaStyle:{color:'rgba(86,168,238,.68)',origin:'start'}}),
  /*2*/line('Trend',1,0,trendTeal,'#4a8592',3.5),
  /*3*/line('Channel upper',1,0,channelUpper,'#4b87ea',2),
  /*4*/line('Channel lower',1,0,channelLower,'#4b87ea',2),
  /*5*/line('Channel top',1,0,channelTop,'#5b92ea',1,{lineStyle:{color:'#5b92ea',width:1,type:[5,4]}}),
  /*6*/line('MA purple',1,0,maPurple,'#a61ef2',2,{smooth:.3}),
  /*7*/line('MA blue',1,0,maBlue,'#1470e6',2,{smooth:.3}),
  /*8*/line('MA teal',1,0,maTeal,'#4f8891',2,{smooth:.3}),
  /*9*/line('MA yellow',1,0,maYellow,'#ffff1e',2,{smooth:.3}),
  /*10*/{name:'Candles',type:'candlestick',xAxisIndex:0,yAxisIndex:0,data:candles,barWidth:3,silent:true,animation:false,large:false,progressive:0,
     itemStyle:{color:'#1f8a33',color0:'#d80f0f',borderColor:'#0a0a0a',borderColor0:'#0a0a0a',borderWidth:1}},
  /*11*/line('MA white',1,0,maWhite,'#ffffff',2,{smooth:.35}),
  /*12*/{name:'Levels',type:'line',xAxisIndex:1,yAxisIndex:0,data:[[0,lastPrice]],symbol:'none',showSymbol:false,lineStyle:{opacity:0},silent:true,animation:false,
     markLine:{silent:true,symbol:'none',animation:false,z:20,data:[
       lvl(priceLevels[0],priceLevels[0].toFixed(2),'#a64d79',[24,0.5],42,true),
       lvl(priceLevels[1],priceLevels[1].toFixed(2),'#a64d79',[24,0.5],42,true),
       lvl(priceLevels[2],priceLevels[2].toFixed(2),'#a64d79',[24,9],42,true),
       lvl(lastPrice,lastPrice.toFixed(2),'#2f9e44',[24,1.5],42,false),
       lvl(lastPrice,countdown,'#2f9e44',[29,18.5],32,false)
     ]}},
  /*13*/line('Note A',1,0,scribbleA,'#f01010',3,{smooth:.5}),
  /*14*/line('Note B',1,0,scribbleB,'#f01010',3,{smooth:.5}),
  /*15*/line('Note C',1,0,scribbleC,'#f01010',3,{smooth:.5}),
  /*16*/bandSeries(2,2,80,20),
  /*17*/line('Stoch K',2,2,stochK,'#2196f3',1.2,{smooth:.2}),
  /*18*/line('Stoch D',2,2,stochD,'#f4691e',1.2,{smooth:.2}),
  /*19*/bandSeries(3,3,70,30),
  /*20*/line('RSI',3,3,rsiLine,'#8e24aa',1.2),
  /*21*/{name:'MACD',type:'line',xAxisIndex:5,yAxisIndex:4,data:macdLine,showSymbol:false,symbol:'none',silent:true,animation:false,lineStyle:{width:2.5}},
  /*22*/{name:'Histogram',type:'bar',xAxisIndex:4,yAxisIndex:4,data:histData,barWidth:2.6,silent:true,animation:false,
     markLine:{silent:true,symbol:'none',animation:false,label:{show:false},lineStyle:{color:'#fff',type:[2,1],width:1},data:[{yAxis:0}]}},
  /*23*/line('Signal',5,4,macdSignal,'#f5ee3a',2.5),
  /*24*/{name:'Cross up',type:'scatter',xAxisIndex:5,yAxisIndex:4,data:crossGreen,symbolSize:6,silent:true,animation:false,itemStyle:{color:'#36e12b'}},
  /*25*/{name:'Cross down',type:'scatter',xAxisIndex:5,yAxisIndex:4,data:crossRed,symbolSize:6,silent:true,animation:false,itemStyle:{color:'#ff3a22'}}
 ]
};
const chart=echarts.init(document.getElementById('c'),null,{renderer:'canvas',width:1555,height:956});
chart.setOption(option);
</script></body></html>
